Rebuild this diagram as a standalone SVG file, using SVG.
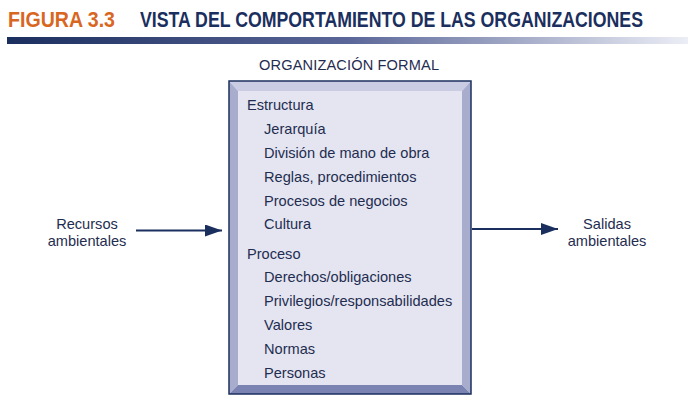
<svg xmlns="http://www.w3.org/2000/svg" width="693" height="412" viewBox="0 0 693 412">
<defs>
<linearGradient id="bar" x1="0" y1="0" x2="1" y2="0">
<stop offset="0" stop-color="#1b2f5e"/>
<stop offset="0.5" stop-color="#5a6698"/>
<stop offset="1" stop-color="#eceef6"/>
</linearGradient>
<marker id="arr" markerWidth="18" markerHeight="12" refX="17" refY="6" orient="auto" markerUnits="userSpaceOnUse">
<path d="M0,0 L17,6 L0,12 Z" fill="#1b2f5e"/>
</marker>
</defs>
<style>
.t{font-family:"Liberation Sans",Arial,sans-serif;font-size:14.6px;fill:#1f2d50}
.h{font-family:"Liberation Sans",Arial,sans-serif;font-size:22px;font-weight:bold}
.line{stroke:#1b2f5e;stroke-width:2;fill:none}
</style>
<rect width="693" height="412" fill="#ffffff"/>
<g id="header">
<text class="h" x="8" y="27" fill="#d9661f" textLength="107" lengthAdjust="spacingAndGlyphs">FIGURA 3.3</text>
<text class="h" x="140" y="27" fill="#1b2f5e" textLength="503" lengthAdjust="spacingAndGlyphs">VISTA DEL COMPORTAMIENTO DE LAS ORGANIZACIONES</text>
<rect x="7" y="37" width="681" height="7" fill="url(#bar)"/>
</g>
<g id="organizacion-formal">
<text class="t" x="349" y="70" text-anchor="middle" textLength="180" lengthAdjust="spacing">ORGANIZACIÓN FORMAL</text>
<polygon points="229,81 471,81 462,91 238,91" fill="#c9cce2"/>
<polygon points="229,81 238,91 238,385 229,394" fill="#a8adcd"/>
<polygon points="471,81 462,91 462,385 471,394" fill="#a8adcd"/>
<polygon points="229,394 238,385 462,385 471,394" fill="#7b83b2"/>
<rect x="238" y="91" width="224" height="294" fill="#e4e5f1"/>
<rect x="229" y="81" width="242" height="313" fill="none" stroke="#1b2f5e" stroke-width="1.5"/>
<text class="t" x="247" y="110">Estructura</text>
<text class="t" x="264" y="134">Jerarquía</text>
<text class="t" x="264" y="158">División de mano de obra</text>
<text class="t" x="264" y="182">Reglas, procedimientos</text>
<text class="t" x="264" y="206">Procesos de negocios</text>
<text class="t" x="264" y="229">Cultura</text>
<text class="t" x="247" y="259">Proceso</text>
<text class="t" x="264" y="282">Derechos/obligaciones</text>
<text class="t" x="264" y="306">Privilegios/responsabilidades</text>
<text class="t" x="264" y="330">Valores</text>
<text class="t" x="264" y="354">Normas</text>
<text class="t" x="264" y="378">Personas</text>
</g>
<g id="recursos">
<text class="t" x="87" y="229" text-anchor="middle">Recursos</text>
<text class="t" x="87" y="246" text-anchor="middle">ambientales</text>
</g>
<g id="salidas">
<text class="t" x="607" y="229" text-anchor="middle">Salidas</text>
<text class="t" x="607" y="246" text-anchor="middle">ambientales</text>
</g>
<g id="connectors">
<line class="line" x1="136" y1="230.5" x2="222" y2="230.5" marker-end="url(#arr)"/>
<line class="line" x1="472" y1="229" x2="558" y2="229" marker-end="url(#arr)"/>
</g>
</svg>
